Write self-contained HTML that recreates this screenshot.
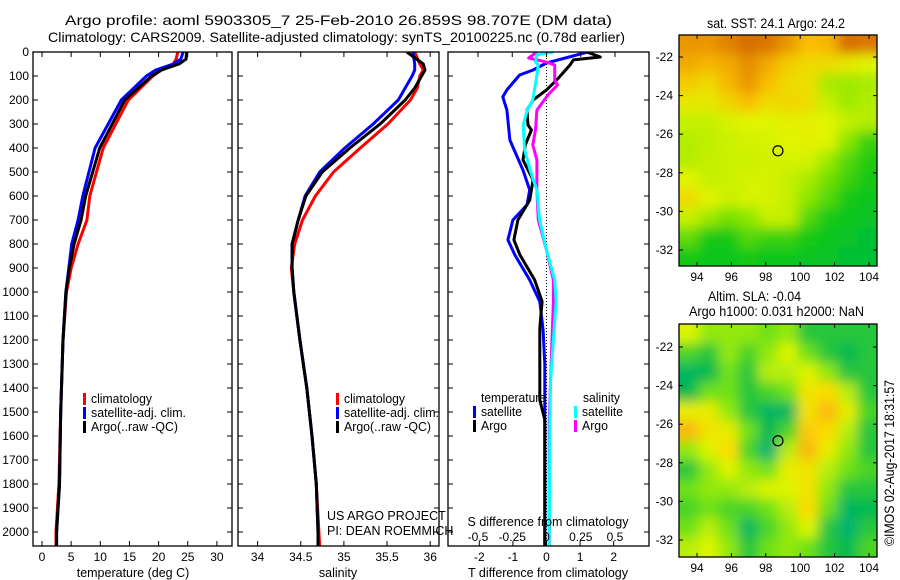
<!DOCTYPE html>
<html><head><meta charset="utf-8"><style>
body{margin:0;background:#fff;}
svg{display:block;font-family:"Liberation Sans",sans-serif;font-size:12px;}
</style></head><body>
<svg id="s" width="900" height="580" viewBox="0 0 900 580">
<defs>
<clipPath id="c1"><rect x="33" y="52" width="199" height="494"/></clipPath>
<clipPath id="c2"><rect x="238" y="52" width="201" height="494"/></clipPath>
<clipPath id="c3"><rect x="448" y="52" width="201" height="494"/></clipPath>
<clipPath id="m1"><rect x="679" y="35" width="198" height="231"/></clipPath>
<clipPath id="m2"><rect x="679" y="324" width="198" height="233"/></clipPath>
<filter id="bl" x="-10%" y="-10%" width="120%" height="120%"><feGaussianBlur stdDeviation="6"/></filter>
</defs>
<text x="65" y="25" font-size="14" textLength="547" lengthAdjust="spacingAndGlyphs">Argo profile: aoml 5903305_7 25-Feb-2010 26.859S 98.707E (DM data)</text>
<text x="48" y="42" font-size="14" textLength="577" lengthAdjust="spacingAndGlyphs">Climatology: CARS2009. Satellite-adjusted climatology: synTS_20100225.nc (0.78d earlier)</text>
</svg>
<script>
// ---- data ----
const depthsT = [0,30,50,75,100,200,400,600,700,800,900,1000,1200,1500,1800,2000,2060];
const tempClim = [23.3,23.0,22.5,20.5,19.0,14.8,10.5,8.2,7.7,6.2,5.0,4.2,3.6,3.2,2.9,2.4,2.4];
const tempSat  = [24.2,23.8,22.5,19.5,17.9,13.6,9.1,7.0,6.2,5.1,4.6,4.1,3.6,3.2,3.0,2.5,2.5];
const tempArgo = [24.8,24.7,23.5,20.5,18.8,14.2,9.9,7.5,6.7,5.5,4.7,4.1,3.6,3.2,3.0,2.5,2.5];
const depthsS = [0,50,75,100,150,200,300,400,500,600,700,800,900,1000,1200,1400,1600,1800,2000,2060];
const salClim = [35.82,35.88,35.92,35.88,35.85,35.77,35.51,35.19,34.88,34.67,34.52,34.43,34.39,34.42,34.49,34.57,34.63,34.68,34.71,34.72];
const salSat  = [35.8,35.82,35.82,35.79,35.71,35.63,35.34,35.01,34.72,34.55,34.47,34.40,34.40,34.42,34.49,34.57,34.63,34.68,34.70,34.70];
const salArgo = [35.73,35.92,35.94,35.9,35.82,35.71,35.42,35.07,34.75,34.56,34.47,34.40,34.40,34.42,34.49,34.57,34.63,34.68,34.70,34.70];
const dBlue = [0,46,75,96,158,187,242,367,492,575,637,700,783,846,950,1040,1158,1300,1500,2060];
const dtSat = [1.23,0,-0.4,-0.8,-1.18,-1.3,-1.18,-1.09,-0.7,-0.5,-0.58,-1.0,-1.15,-0.94,-0.5,-0.2,-0.1,-0.05,-0.05,-0.05];
const dBlack = [0,21,33,54,117,158,200,242,304,325,387,450,533,617,700,783,846,950,1040,1150,1367,1450,1533,2060];
const dtArgo = [1.2,1.6,0.8,0.7,0.3,0,-0.4,-0.58,-0.55,-0.45,-0.63,-0.7,-0.4,-0.5,-0.85,-0.97,-0.79,-0.35,-0.13,-0.2,-0.2,-0.2,-0.05,-0.05];
const dCyan = [0,12,42,54,96,200,242,304,408,492,575,700,825,950,1040,1200,1367,1533,2060];
const dsSat = [0.05,-0.07,-0.08,-0.06,-0.07,-0.1,-0.14,-0.17,-0.16,-0.12,-0.07,-0.05,0,0.06,0.07,0.05,0.03,0.025,0.02];
const dMag = [0,25,42,54,117,138,179,242,325,387,450,575,700,825,950,1040,1200,1367,1533,2060];
const dsArgo = [-0.07,-0.13,0,0.06,0.06,0.08,0.01,-0.07,-0.08,-0.1,-0.07,-0.07,-0.06,0,0.05,0.05,0.04,0.03,0.02,0.02];
const depthTicks = [0,100,200,300,400,500,600,700,800,900,1000,1100,1200,1300,1400,1500,1600,1700,1800,1900,2000];
const tempTicks = [0,5,10,15,20,25,30];
const salTicks = [34,34.5,35,35.5,36];
const salTickLabels = ["34","34.5","35","35.5","36"];
const dtTicks = [-2,-1,0,1,2];
const dsTicks = [-0.5,-0.25,0,0.25,0.5];
const dsTickLabels = ["-0.5","-0.25","0","0.25","0.5"];
const lonTicks = [94,96,98,100,102,104];
const latTicks = [-22,-24,-26,-28,-30,-32];
const sstGrid = [
[0.8,0.8,0.85,0.9,0.88,0.8,0.7,0.72,0.9,0.88],
[0.75,0.72,0.75,0.82,0.75,0.65,0.6,0.6,0.55,0.5],
[0.65,0.6,0.72,0.8,0.7,0.6,0.58,0.4,0.38,0.4],
[0.55,0.55,0.62,0.7,0.6,0.62,0.6,0.45,0.38,0.42],
[0.45,0.45,0.48,0.5,0.5,0.52,0.52,0.5,0.45,0.42],
[0.42,0.44,0.46,0.48,0.48,0.5,0.52,0.5,0.35,0.25],
[0.42,0.45,0.46,0.46,0.47,0.48,0.48,0.38,0.28,0.22],
[0.5,0.45,0.46,0.48,0.48,0.45,0.4,0.32,0.25,0.2],
[0.6,0.5,0.46,0.48,0.48,0.45,0.35,0.28,0.2,0.18],
[0.45,0.38,0.32,0.35,0.45,0.45,0.28,0.2,0.18,0.15],
[0.3,0.2,0.2,0.28,0.25,0.25,0.2,0.18,0.15,0.12],
[0.2,0.18,0.18,0.2,0.18,0.18,0.16,0.15,0.12,0.12]];
const slaGrid = [
[0.45,0.35,0.35,0.35,0.3,0.35,0.2,0.2,0.2,0.2],
[0.25,0.2,0.35,0.25,0.35,0.45,0.3,0.2,0.15,0.2],
[0.1,0.15,0.3,0.2,0.4,0.4,0.45,0.35,0.2,0.2],
[0.15,0.3,0.3,0.2,0.25,0.3,0.55,0.6,0.4,0.2],
[0.5,0.5,0.35,0.2,0.1,0.1,0.55,0.7,0.5,0.25],
[0.7,0.55,0.5,0.3,0.15,0.25,0.65,0.6,0.4,0.2],
[0.35,0.45,0.6,0.25,0.05,0.4,0.7,0.5,0.35,0.2],
[0.2,0.35,0.45,0.35,0.3,0.5,0.55,0.4,0.3,0.25],
[0.3,0.35,0.35,0.4,0.45,0.45,0.55,0.35,0.2,0.2],
[0.25,0.3,0.25,0.25,0.3,0.4,0.6,0.3,0.1,0.15],
[0.3,0.4,0.3,0.1,0.25,0.35,0.45,0.2,0.05,0.2],
[0.4,0.45,0.35,0.2,0.3,0.35,0.3,0.2,0.15,0.25]];

// ---- axes ----
const yD = d => 52 + d*0.24;
const xT = t => 42 + t*5.83;
const xS = s => 257.6 + (s-34)*86.3;
const xDT = v => 546.5 + v*33.6;
const xDS = v => 546.5 + v*137;
const lonX = l => 697 + (l-94)*17.2;
const latY1 = l => 57 + (-22-l)*19.3;
const latY2 = l => 347 + (-22-l)*19.3;

const svg = document.getElementById('s');
const NS = 'http://www.w3.org/2000/svg';
function mk(tag, attrs, parent){const e=document.createElementNS(NS,tag);for(const k in attrs)e.setAttribute(k,attrs[k]);(parent||svg).appendChild(e);return e;}
function txt(x,y,s,anchor,len,fs){const a={x:x,y:y,'text-anchor':anchor||'start'};if(fs)a['font-size']=fs;if(len){a.textLength=len;a.lengthAdjust='spacingAndGlyphs';if(!fs)a['font-size']=14;}const e=mk('text',a);e.textContent=s;return e;}

function frame(x,y,w,h,name){
  const r=mk('rect',{x:x,y:y,width:w,height:h,fill:'none',stroke:'#000','stroke-width':1.3});
  
  
}
function line(vals, deps, xf, color, clip, name){
  const pts = vals.map((v,i)=>xf(v).toFixed(1)+','+yD(deps[i]).toFixed(1)).join(' ');
  const p = mk('polyline',{points:pts,fill:'none',stroke:color,'stroke-width':3,'stroke-linejoin':'round','clip-path':'url(#'+clip+')'});
  
  
}
function ticksY(x0,x1){
  depthTicks.forEach(d=>{const y=yD(d);mk('line',{x1:x0,y1:y,x2:x0+5,y2:y,stroke:'#000'});mk('line',{x1:x1,y1:y,x2:x1-5,y2:y,stroke:'#000'});});
}
function ticksX(vals,xf,y0,y1,both){
  vals.forEach(v=>{const x=xf(v);mk('line',{x1:x,y1:y1,x2:x,y2:y1-5,stroke:'#000'});if(both)mk('line',{x1:x,y1:y0,x2:x,y2:y0+5,stroke:'#000'});});
}

// panel 1
line(tempClim,depthsT,xT,'#f00','c1','temp-climatology-line');
line(tempSat,depthsT,xT,'#00f','c1','temp-satellite-line');
line(tempArgo,depthsT,xT,'#000','c1','temp-argo-line');
frame(33,52,199,494,'temperature-panel');
ticksY(33,232); ticksX(tempTicks,xT,52,546,true);
depthTicks.forEach(d=>{const t=txt(29,yD(d)+4,String(d),'end');});
tempTicks.forEach(v=>{const t=txt(xT(v),561,String(v),'middle');});
let t=txt(133,577,'temperature (deg C)','middle',null,12.5);

// panel 2
line(salClim,depthsS,xS,'#f00','c2','sal-climatology-line');
line(salSat,depthsS,xS,'#00f','c2','sal-satellite-line');
line(salArgo,depthsS,xS,'#000','c2','sal-argo-line');
frame(238,52,201,494,'salinity-panel');
ticksY(238,439); ticksX(salTicks,xS,52,546,true);
salTicks.forEach((v,i)=>{const e=txt(xS(v),561,salTickLabels[i],'middle');});
t=txt(338,577,'salinity','middle',null,12.5);

// panel 3
mk('line',{x1:546.5,y1:52,x2:546.5,y2:546,stroke:'#000','stroke-dasharray':'1,2'});
line(dtSat,dBlue,xDT,'#00f','c3','tdiff-satellite-line');
line(dtArgo,dBlack,xDT,'#000','c3','tdiff-argo-line');
line(dsArgo,dMag,xDS,'#f0f','c3','sdiff-argo-line');
line(dsSat,dCyan,xDS,'#0ff','c3','sdiff-satellite-line');
frame(448,52,201,494,'difference-panel');
ticksY(448,649); ticksX(dtTicks,xDT,52,546,false);
dsTicks.forEach(v=>{const x=xDS(v);mk('line',{x1:x,y1:52,x2:x,y2:57,stroke:'#000'});});
dtTicks.forEach(v=>{const e=txt(xDT(v),561,String(v),'middle');});
dsTicks.forEach((v,i)=>{const e=txt(xDS(v),541,dsTickLabels[i],'middle');});
t=txt(548,526,'S difference from climatology','middle',null,12.5);
t=txt(548,577,'T difference from climatology','middle',null,12.5);

// legends
function legEntry(x,y,color,label,name,len){
  mk('rect',{x:x,y:y-10,width:3,height:12,fill:color});
  const e=txt(x+8,y,label,'start',len,13);
  
  
}
legEntry(83,403,'#f00','climatology','legend-climatology',61);
legEntry(83,417,'#00f','satellite-adj. clim.','legend-satellite',95);
legEntry(83,431,'#000','Argo(..raw -QC)','legend-argo',87);
legEntry(336,403,'#f00','climatology','legend-climatology-2',61);
legEntry(336,417,'#00f','satellite-adj. clim.','legend-satellite-2',95);
legEntry(336,431,'#000','Argo(..raw -QC)','legend-argo-2',87);
t=txt(481,402,'temperature','start',65,13);
legEntry(473,416,'#00f','satellite','legend-t-satellite',41);
legEntry(473,430,'#000','Argo','legend-t-argo',26);
t=txt(583,402,'salinity','start',37,13);
legEntry(574,416,'#0ff','satellite','legend-s-satellite',41);
legEntry(574,430,'#f0f','Argo','legend-s-argo',26);
t=txt(327,520,'US ARGO PROJECT','start',null,12.5);
t=txt(327,535,'PI: DEAN ROEMMICH','start',null,12.5);

// maps
const sstStops=[[0.1,[0,190,60]],[0.2,[20,200,20]],[0.35,[140,230,0]],[0.5,[225,245,0]],[0.7,[250,190,0]],[0.9,[215,110,0]]];
const slaStops=[[0.0,[0,175,130]],[0.15,[0,185,80]],[0.3,[110,225,20]],[0.45,[220,245,0]],[0.6,[252,220,0]],[0.75,[250,165,20]]];
function cmap(v,stops){
  if(v<=stops[0][0])return 'rgb('+stops[0][1]+')';
  for(let i=1;i<stops.length;i++){if(v<=stops[i][0]){const a=stops[i-1],b=stops[i],f=(v-a[0])/(b[0]-a[0]);return 'rgb('+a[1].map((c,k)=>Math.round(c+(b[1][k]-c)*f)).join(',')+')';}}
  return 'rgb('+stops[stops.length-1][1]+')';
}
function drawMap(grid,stops,x0,y0,w,h,clip,name){
  const g=mk('g',{'clip-path':'url(#'+clip+')'});
  
  
  const inner=mk('g',{filter:'url(#bl)'},g);
  const rows=grid.length, cols=grid[0].length, cw=w/cols, ch=h/rows;
  mk('rect',{x:x0-20,y:y0-20,width:w+40,height:h+40,fill:cmap(grid[rows-1][cols-1],stops)},inner);
  grid.forEach((row,r)=>row.forEach((v,c)=>{
    const ex=(c===0?-15:0), ey=(r===0?-15:0), ew=(c===cols-1?15:0), eh=(r===rows-1?15:0);
    mk('rect',{x:x0+c*cw+ex,y:y0+r*ch+ey,width:cw+1-ex+ew,height:ch+1-ey+eh,fill:cmap(v,stops)},inner);
  }));
}
drawMap(sstGrid,sstStops,679,35,198,231,'m1','sst-map');
drawMap(slaGrid,slaStops,679,324,198,233,'m2','sla-map');
function mapAxes(y0,h,latY,nm){
  frame(679,y0,198,h,nm);
  lonTicks.forEach(l=>{const x=lonX(l);mk('line',{x1:x,y1:y0,x2:x,y2:y0+4,stroke:'#000'});mk('line',{x1:x,y1:y0+h,x2:x,y2:y0+h-4,stroke:'#000'});
    const e=txt(x,y0+h+15,String(l),'middle');});
  latTicks.forEach(l=>{const y=latY(l);mk('line',{x1:679,y1:y,x2:683,y2:y,stroke:'#000'});mk('line',{x1:877,y1:y,x2:873,y2:y,stroke:'#000'});
    const e=txt(673,y+4,String(l),'end');});
  const c=mk('circle',{cx:lonX(98.707),cy:latY(-26.859),r:5,fill:'none',stroke:'#000','stroke-width':1.2});
  
  
}
mapAxes(35,231,latY1,'sst-map-frame');
mapAxes(324,233,latY2,'sla-map-frame');
t=txt(707,28,'sat. SST: 24.1  Argo: 24.2','start',138);
t=txt(708,301,'Altim. SLA: -0.04','start',93);
t=txt(689,316,'Argo h1000: 0.031 h2000: NaN','start',175);
t=mk('text',{x:0,y:0,'text-anchor':'middle','font-size':14,textLength:166,lengthAdjust:'spacingAndGlyphs',transform:'translate(894,463) rotate(-90)'});t.textContent='©IMOS 02-Aug-2017 18:31:57';


</script>
</body></html>
